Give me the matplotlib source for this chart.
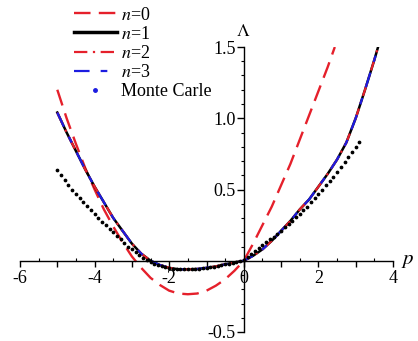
import numpy as np
import matplotlib
matplotlib.use("Agg")
import matplotlib.pyplot as plt
from matplotlib.lines import Line2D
from matplotlib.ticker import MultipleLocator, FixedLocator, FuncFormatter

plt.rcParams['font.family'] = ['Liberation Serif', 'DejaVu Serif']
plt.rcParams['mathtext.fontset'] = 'stix'

# n=0 (red dashed)
p0 = [-5.0, -4.75, -4.5, -4.25, -4.0, -3.75, -3.5, -3.25, -3.0, -2.75, -2.5, -2.25, -2.0, -1.75,
      -1.5, -1.25, -1.0, -0.75, -0.5, -0.25, 0.0, 0.25, 0.5, 0.75, 1.0, 1.25, 1.5, 1.75, 2.0, 2.25, 2.44]
L0 = [1.20, 1.00, 0.82, 0.65, 0.50, 0.36, 0.24, 0.13, 0.03, -0.05, -0.12, -0.17, -0.21, -0.23,
      -0.235, -0.23, -0.21, -0.175, -0.13, -0.07, 0.0, 0.12, 0.25, 0.38, 0.53, 0.68, 0.85, 1.02, 1.19, 1.36, 1.50]

# n=1 (black solid)
p1 = [-5.0, -4.75, -4.5, -4.25, -4.0, -3.75, -3.5, -3.25, -3.0, -2.75, -2.5, -2.25, -2.0, -1.75,
      -1.5, -1.25, -1.0, -0.75, -0.5, -0.25, 0.0, 0.25, 0.5, 0.75, 1.0, 1.25, 1.5, 1.75, 2.0, 2.25,
      2.5, 2.75, 3.0, 3.25, 3.5, 3.6]
L1 = [1.04, 0.90, 0.77, 0.64, 0.52, 0.41, 0.30, 0.21, 0.12, 0.05, 0.0, -0.03, -0.05, -0.06,
      -0.06, -0.058, -0.05, -0.04, -0.025, -0.012, 0.0, 0.035, 0.08, 0.14, 0.21, 0.28, 0.36, 0.43, 0.52, 0.61,
      0.71, 0.83, 1.00, 1.20, 1.41, 1.50]

# n=2 (red dash-dot)
p2 = list(p1)
L2 = [1.04, 0.90, 0.77, 0.64, 0.52, 0.41, 0.30, 0.21, 0.12, 0.05, 0.0, -0.03, -0.05, -0.06,
      -0.06, -0.058, -0.05, -0.04, -0.025, -0.012, 0.0, 0.035, 0.08, 0.14, 0.21, 0.28, 0.36, 0.43, 0.52, 0.61,
      0.71, 0.83, 1.00, 1.20, 1.41, 1.50]

# n=3 (blue dashed)
p3 = list(p1)
L3 = [1.04, 0.90, 0.77, 0.64, 0.52, 0.41, 0.30, 0.21, 0.12, 0.05, 0.0, -0.03, -0.05, -0.06,
      -0.06, -0.058, -0.05, -0.04, -0.025, -0.012, 0.0, 0.035, 0.08, 0.14, 0.21, 0.28, 0.36, 0.43, 0.52, 0.61,
      0.71, 0.83, 1.00, 1.20, 1.41, 1.50]

# Monte Carlo (black dots)
pmc = [-5.0, -4.9, -4.8, -4.7, -4.6, -4.5, -4.4, -4.3, -4.2, -4.1, -4.0, -3.9, -3.8, -3.7, -3.6,
       -3.5, -3.4, -3.3, -3.2, -3.1, -3.0, -2.9, -2.8, -2.7, -2.6, -2.5, -2.4, -2.3, -2.2, -2.1,
       -2.0, -1.9, -1.8, -1.7, -1.6, -1.5, -1.4, -1.3, -1.2, -1.1, -1.0, -0.9, -0.8, -0.7, -0.6,
       -0.5, -0.4, -0.3, -0.2, -0.1, 0.0, 0.1, 0.2, 0.3, 0.4, 0.5, 0.6, 0.7, 0.8, 0.9,
       1.0, 1.1, 1.2, 1.3, 1.4, 1.5, 1.6, 1.7, 1.8, 1.9, 2.0, 2.1, 2.2, 2.3, 2.4,
       2.5, 2.6, 2.7, 2.8, 2.9, 3.0, 3.1]
Lmc = [0.64, 0.605, 0.57, 0.535, 0.50, 0.47, 0.44, 0.41, 0.385, 0.355, 0.33, 0.30, 0.275, 0.25, 0.225,
       0.20, 0.175, 0.15, 0.125, 0.10, 0.08, 0.06, 0.04, 0.02, 0.005, -0.01, -0.02, -0.03, -0.04, -0.045,
       -0.05, -0.055, -0.057, -0.06, -0.06, -0.06, -0.06, -0.058, -0.055, -0.052, -0.05, -0.046, -0.042, -0.037, -0.032,
       -0.026, -0.02, -0.013, -0.007, 0.0, 0.005, 0.025, 0.045, 0.07, 0.09, 0.11, 0.13, 0.15, 0.17, 0.19,
       0.21, 0.235, 0.26, 0.28, 0.305, 0.33, 0.355, 0.38, 0.41, 0.44, 0.47, 0.50, 0.53, 0.56, 0.59,
       0.62, 0.655, 0.69, 0.725, 0.76, 0.795, 0.83]

legend_labels = ['$n$=0', '$n$=1', '$n$=2', '$n$=3', 'Monte Carle']
xtick_labels = {-6: '-6', -4: '-4', -2: '-2', 0: '0', 2: '2', 4: '4'}

RED = '#e5202b'
BLUE = '#1c1ce0'

fig = plt.figure(figsize=(4.18, 3.41), dpi=100)
ax = fig.add_axes([20/418, 9/341, (393-20)/418, (332-47)/341])

ax.plot(p0, L0, color=RED, lw=1.7, dashes=(7, 3.5))
ax.plot(p1, L1, color='black', lw=1.8)
ax.plot(p2, L2, color=RED, lw=1.6, dashes=(6, 2.5, 1, 2.5))
ax.plot(p3, L3, color=BLUE, lw=1.6, dashes=(7, 5, 3, 5))
ax.plot(pmc, Lmc, ls='none', marker='o', ms=1.7, color='black')

ax.set_xlim(-6, 4)
ax.set_ylim(-0.5, 1.5)
ax.spines['left'].set_position(('data', 0))
ax.spines['bottom'].set_position(('data', 0))
ax.spines['right'].set_visible(False)
ax.spines['top'].set_visible(False)
ax.xaxis.set_major_locator(MultipleLocator(1))
ax.xaxis.set_minor_locator(FixedLocator([-5.5, -4.5, -3.5, -2.5, -1.5, -0.5, 0.5, 1.5, 2.5, 3.5]))
ax.xaxis.set_major_formatter(FuncFormatter(lambda v, pos: xtick_labels.get(int(round(v)), '')))
ax.yaxis.set_major_locator(FixedLocator([-0.5, 0.5, 1.0, 1.5]))
ax.yaxis.set_minor_locator(MultipleLocator(0.1))
ax.set_yticklabels(['-0.5', '0.5', '1.0', '1.5'])
ax.tick_params(axis='x', which='major', direction='out', length=4, width=1, labelsize=13, pad=3)
ax.tick_params(axis='x', which='minor', direction='in', length=2.5, width=0.8)
ax.tick_params(axis='y', which='major', direction='out', length=5, width=1, labelsize=13, pad=1)
ax.tick_params(axis='y', which='minor', direction='out', length=2.5, width=0.8)
for s in ('left', 'bottom'):
    ax.spines[s].set_linewidth(1.0)
ax.patch.set_visible(False)

fig.text(408/418, 1 - 260/341, '$p$', fontsize=15, ha='center', va='center')
fig.text(243/418, 1 - 32/341, r'$\Lambda$', fontsize=13, ha='center', va='center')

handles = [
    Line2D([], [], color=RED, lw=1.7, dashes=(7, 3.5)),
    Line2D([], [], color='black', lw=2.5),
    Line2D([], [], color=RED, lw=1.6, dashes=(6, 2.5, 1, 2.5)),
    Line2D([], [], color=BLUE, lw=1.6, dashes=(7, 5, 3, 5)),
    Line2D([], [], ls='none', marker='o', ms=2.5, color=BLUE),
]
fig.legend(handles, legend_labels, loc='upper left', bbox_to_anchor=(70/418, 1 - 3/341),
           frameon=False, fontsize=13, handlelength=2.4, handletextpad=0.2,
           labelspacing=0.12, borderaxespad=0, borderpad=0.2)

fig.savefig('out.png', dpi=100)
